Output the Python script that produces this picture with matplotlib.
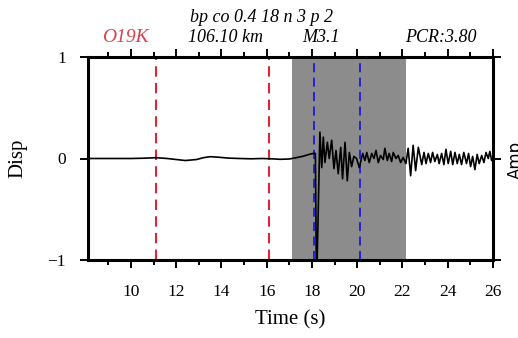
import matplotlib
matplotlib.use("Agg")
import matplotlib.pyplot as plt
from matplotlib.ticker import MultipleLocator

# waveform samples (time [s], normalised disp)
t_pre = [8.1, 9.0, 10.0, 10.6, 11.1, 11.6, 12.0, 12.4, 12.9, 13.2, 13.5, 13.9, 14.3,
         14.8, 15.3, 15.8, 16.2, 16.6, 17.0, 17.3, 17.6, 17.9, 18.06, 18.15]
v_pre = [0.0, 0.0, 0.0, 0.003, 0.008, 0.0, -0.01, -0.02, -0.01, 0.008, 0.018, 0.012, 0.004,
         0.0, -0.003, 0.0, -0.003, -0.008, -0.005, 0.008, 0.022, 0.042, 0.05, 0.05]

t_evt = [18.20, 18.35, 18.43, 18.50, 18.57, 18.68, 18.76, 18.87, 18.97, 19.06, 19.16,
         19.27, 19.35, 19.46, 19.56, 19.65, 19.75, 19.85, 19.97, 20.09, 20.24, 20.34,
         20.42, 20.53, 20.64, 20.74, 20.83, 20.93, 21.03, 21.15, 21.22, 21.33, 21.41,
         21.52, 21.59, 21.71, 21.81, 21.92, 22.03, 22.15, 22.25, 22.36, 22.47, 22.58,
         22.70, 22.85, 22.95, 23.04, 23.14, 23.24, 23.33, 23.43, 23.54, 23.62, 23.73,
         23.83, 23.92, 24.02, 24.13, 24.22, 24.32, 24.42, 24.51, 24.61, 24.71, 24.83,
         24.92, 25.01, 25.10, 25.20, 25.30, 25.39, 25.50, 25.60, 25.69, 25.79, 25.86,
         25.94, 26.0]
v_evt = [-1.3, 0.26, -0.09, 0.21, -0.04, 0.16, 0.0, 0.18, -0.10, 0.08, -0.15,
         0.11, -0.20, 0.16, -0.22, 0.06, -0.08, 0.02, 0.0, -0.09, 0.05, -0.02,
         0.06, -0.04, 0.05, 0.0, 0.08, -0.04, 0.03, -0.01, 0.10, -0.02, 0.05,
         -0.03, 0.06, 0.0, 0.03, -0.04, 0.01, -0.05, 0.10, -0.17, 0.13, -0.12,
         0.11, -0.06, 0.06, -0.05, 0.05, -0.04, 0.06, -0.03, 0.04, -0.05, 0.05,
         -0.06, 0.09, -0.05, 0.07, -0.06, 0.06, -0.05, 0.04, -0.06, 0.06, -0.05,
         0.05, -0.08, 0.02, -0.11, 0.04, -0.05, 0.03, -0.04, 0.06, 0.0, 0.07,
         -0.02, 0.0]

time = t_pre + t_evt
disp = v_pre + v_evt

# picks and window
red_picks = [11.1, 16.1]
blue_picks = [18.1, 20.1]
window = (17.1, 22.15)

station = "O19K"
filt_text = "bp co 0.4 18 n 3 p 2"
dist_text = "106.10 km"
mag_text = "M3.1"
pcr_text = "PCR:3.80"

serif = "Liberation Serif"

fig = plt.figure(figsize=(5.18, 3.38), dpi=100)
ax = fig.add_axes([88/518, 1-260/338, 405/518, 203/338])

ax.axvspan(window[0], window[1], color=(0.55, 0.55, 0.55), lw=0, zorder=0)
for xp in red_picks:
    ax.axvline(xp, color=(0.87, 0.15, 0.2), ls=(0, (5, 3)), lw=1.5, zorder=1)
for xp in blue_picks:
    ax.axvline(xp, color=(0.1, 0.1, 0.85), ls=(0, (5, 3)), lw=1.3, zorder=1)

ax.plot(time, disp, color='black', lw=1.2, zorder=2)

ax.set_xlim(8.1, 26.0)
ax.set_ylim(-1, 1)
ax.xaxis.set_major_locator(MultipleLocator(2))
ax.xaxis.set_minor_locator(MultipleLocator(1))
ax.set_yticks([-1, 0, 1])

for s in ax.spines.values():
    s.set_linewidth(2.2)
ax.tick_params(which='both', direction='out', top=True, right=True, width=1.4,
               labelsize=12.5, labelfontfamily=serif)
ax.tick_params(which='major', length=6)
ax.tick_params(which='minor', length=3.5)
ax.tick_params(axis='x', pad=11)
ax.tick_params(axis='y', pad=10)

ax.set_xlabel("Time (s)", fontsize=15, family=serif, labelpad=8)
ax.set_ylabel("Disp", fontsize=15, family=serif, labelpad=14)

fig.text(262/518, 1-17/338, filt_text, ha='center', va='center', fontsize=13,
         family=serif, style='italic')
fig.text(125/518, 1-38/338, station, ha='center', va='center', fontsize=14,
         family=serif, style='italic', color=(0.85, 0.25, 0.3))
fig.text(226/518, 1-38/338, dist_text, ha='center', va='center', fontsize=13,
         family=serif, style='italic')
fig.text(321/518, 1-38/338, mag_text, ha='center', va='center', fontsize=13,
         family=serif, style='italic')
fig.text(441/518, 1-38/338, pcr_text, ha='center', va='center', fontsize=13,
         family=serif, style='italic')
fig.text(507/518, 1-160/338, "Amp", ha='left', va='center', fontsize=12,
         rotation=90)

fig.savefig("out.png", dpi=100)
